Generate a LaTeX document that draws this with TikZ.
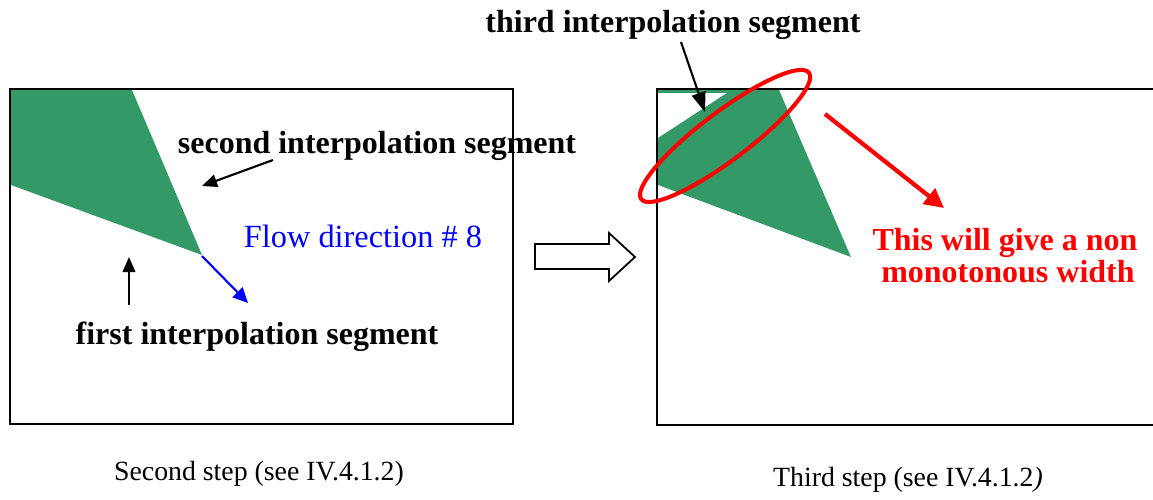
\documentclass[tikz,border=0pt]{standalone}
\usepackage{fontspec}
\setmainfont{Liberation Serif}
\usetikzlibrary{arrows.meta}
\definecolor{pgreen}{RGB}{51,153,102}
\begin{document}
\begin{tikzpicture}[x=0.01cm,y=-0.01cm,
  lbl/.style={font=\fontsize{9.1pt}{11pt}\selectfont\bfseries, inner sep=0pt, anchor=base},
  flowlbl/.style={font=\fontsize{9.2pt}{11pt}\selectfont, text=blue, inner sep=0pt, anchor=base},
  redlbl/.style={font=\fontsize{9.1pt}{11pt}\selectfont\bfseries, text=red, inner sep=0pt, anchor=base},
  caplbl/.style={font=\fontsize{7.9pt}{9pt}\selectfont, inner sep=0pt, anchor=base},
  framebox/.style={line width=0.65pt, black},
  ptr/.style={-{Triangle[length=4.3pt,width=3.6pt]}, line width=0.6pt},
  bigptr/.style={-{Triangle[length=5.6pt,width=4pt]}, line width=0.6pt},
  blueptr/.style={-{Triangle[length=4.3pt,width=4pt]}, line width=0.6pt, blue},
  redptr/.style={-{Triangle[length=5.5pt,width=5.5pt]}, line width=1.2pt, red},
  hollow/.style={line width=0.5pt, black, fill=white},
  greenfill/.style={fill=pgreen, draw=none}
]
\useasboundingbox (0,0) rectangle (1153,500);

% left panel
\fill[greenfill] (11,90) -- (132,90) -- (202,255) -- (11,185) -- cycle;
\draw[framebox] (10,89) rectangle (513,424);

% right panel
\fill[greenfill] (658,90) -- (779,90) -- (851,257) -- (658,185) -- (658,138) -- (727,93) -- (658,93) -- cycle;
\draw[framebox] (1154,89) -- (657,89) -- (657,425) -- (1154,425);

% labels
\node[lbl] (second) at (377,153) {second interpolation segment};
\node[flowlbl] (flow) at (363,248) {Flow direction \# 8};
\node[lbl] (first) at (257,345) {first interpolation segment};
\node[lbl] (third) at (673,32) {third interpolation segment};
\node[redlbl] (red1) at (1005,251) {This will give a non};
\node[redlbl] (red2) at (1008,283) {monotonous width};
\node[caplbl] (cap1) at (259,481) {Second step (see IV.4.1.2)};
\node[caplbl] (cap2) at (908,487) {Third step (see IV.4.1.2\textit{)}};

% coordinates for pointers
\coordinate (s0) at (273,160);
\coordinate (s1) at (202,186);
\coordinate (b0) at (202,256);
\coordinate (b1) at (248,303);
\coordinate (f0) at (129,305);
\coordinate (f1) at (129,257);
\coordinate (t0) at (681,42);
\coordinate (t1) at (705,112);
\coordinate (r0) at (825,114);
\coordinate (r1) at (944,208);
\coordinate (ec) at (725,136);

\draw[ptr] (s0) -- (s1);
\draw[blueptr] (b0) -- (b1);
\draw[ptr] (f0) -- (f1);
\draw[bigptr] (t0) -- (t1);
\draw[redptr] (r0) -- (r1);

% red ellipse
\draw[red, line width=1.15pt, rotate around={37:(ec)}] (ec) ellipse [x radius=105, y radius=24];

% hollow block arrow
\draw[hollow] (535,244) -- (609,244) -- (609,233) -- (635,257) -- (609,281) -- (609,269) -- (535,269) -- cycle;
\end{tikzpicture}
\end{document}
